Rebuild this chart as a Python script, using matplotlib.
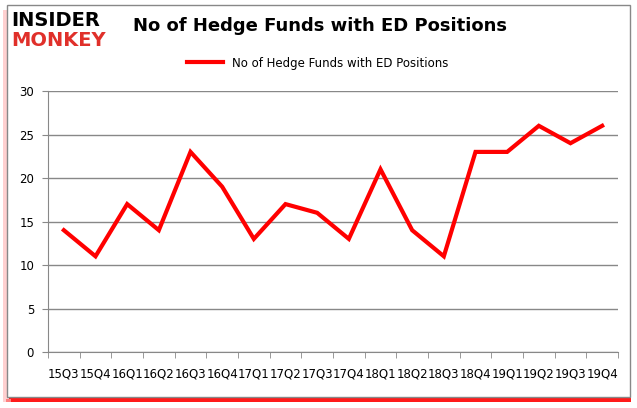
import matplotlib
matplotlib.use("Agg")
import matplotlib.pyplot as plt
from matplotlib.patches import Rectangle

quarters = ["15Q3","15Q4","16Q1","16Q2","16Q3","16Q4","17Q1","17Q2","17Q3",
            "17Q4","18Q1","18Q2","18Q3","18Q4","19Q1","19Q2","19Q3","19Q4"]
funds = [14, 11, 17, 14, 23, 19, 13, 17, 16, 13, 21, 14, 11, 23, 23, 26, 24, 26]
yticks = [0, 5, 10, 15, 20, 25, 30]

W, H = 637, 408
fig = plt.figure(figsize=(W/100, H/100), dpi=100)
fig.patch.set_facecolor("white")

def px(x0, y0, w, h, **kw):
    # rectangle in pixel coords from top-left
    fig.patches.append(Rectangle((x0/W, 1-(y0+h)/H), w/W, h/H,
                                 transform=fig.transFigure, **kw))

# soft shadow: pale pink on left, red on bottom
px(3, 10, 6, 392, facecolor="#ffd0d0", edgecolor="none", zorder=0)
px(9, 396, 622, 6, facecolor="#ff1a1a", edgecolor="none", zorder=0)
px(6, 399, 5, 3, facecolor="#ff8080", edgecolor="none", zorder=0)
# frame
px(7, 5, 623, 392, facecolor="white", edgecolor="#888888", lw=1, zorder=1)

ax = fig.add_axes([48/W, (H-352)/H, 570/W, 261/H])
ax.set_zorder(2)
ax.patch.set_alpha(0)
x = list(range(len(quarters)))
ax.plot(x, funds, color="#ff0000", lw=3, solid_joinstyle="miter",
        label="No of Hedge Funds with ED Positions")
ax.set_xlim(-0.5, len(quarters)-0.5)
ax.set_ylim(0, 30)
ax.set_yticks(yticks)
ax.set_yticklabels([str(v) for v in yticks], fontsize=8.5)
ax.set_xticks(x)
ax.set_xticklabels(quarters, fontsize=8.5)
ax.set_xticks([i-0.5 for i in range(len(quarters)+1)], minor=True)
ax.tick_params(axis="x", which="major", length=0, pad=11)
ax.tick_params(axis="x", which="minor", length=4, color="#888888")
ax.tick_params(axis="y", length=4, color="#888888", pad=6)
ax.grid(axis="y", color="#888888", lw=1)
ax.set_axisbelow(True)
for s in ["top", "right"]:
    ax.spines[s].set_visible(False)
for s in ["left", "bottom"]:
    ax.spines[s].set_color("#888888")

leg = fig.legend(loc="center", bbox_to_anchor=(318/W, 1-63/H), frameon=False,
                 fontsize=8.5, handlelength=3)

fig.text(320/W, 1-26/H, "No of Hedge Funds with ED Positions", ha="center", va="center",
         fontsize=13, fontweight="bold", zorder=3)
fig.text(11/W, 1-20/H, "INSIDER", ha="left", va="center", fontsize=14,
         fontweight="black", color="black", zorder=3)
fig.text(11/W, 1-41/H, "MONKEY", ha="left", va="center", fontsize=14,
         fontweight="black", color="#e0302a", zorder=3)

fig.savefig("out.png", dpi=100)
